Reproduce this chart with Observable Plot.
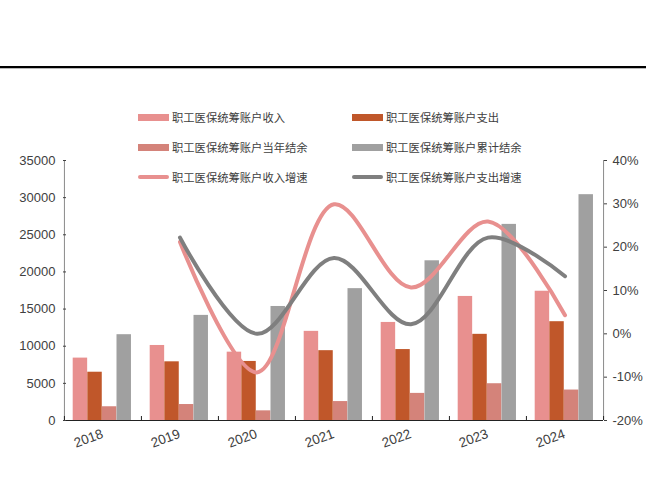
<!DOCTYPE html>
<html><head><meta charset="utf-8">
<script src="https://cdn.jsdelivr.net/npm/d3@7"></script>
<script src="https://cdn.jsdelivr.net/npm/@observablehq/plot@0.6"></script>
<style>
body{margin:0;background:#fff;font-family:"Liberation Sans",Arial,"Noto Sans CJK SC",sans-serif;}
#wrap{position:relative;width:646px;height:482px;overflow:hidden;background:#fff}
.topline{position:absolute;left:0;top:66px;width:646px;height:2px;background:#000;border-bottom:1px solid #b8b8b8}
#legend{position:absolute;left:0;top:0;z-index:2}
.leg{position:absolute;display:flex;align-items:center;font-family:"Noto Sans CJK SC",sans-serif;font-size:11.3px;color:#404040;white-space:nowrap;height:16px}
.sw{width:31px;margin-right:3px}
#chart{position:absolute;left:0;top:150px;z-index:1}
</style></head><body>
<div id="wrap">
  <div class="topline"></div>
  <div id="chart"></div>
  <div id="legend"></div>
</div>
<script>
// ---- data ----
const years = ["2018","2019","2020","2021","2022","2023","2024"];
const income = [8400, 10100, 9200, 12000, 13200, 16700, 17400];
const expense = [6500, 7900, 7950, 9400, 9550, 11600, 13300];
const balance = [1850, 2150, 1300, 2550, 3650, 4950, 4100];
const cumulative = [11550, 14150, 15350, 17750, 21500, 26400, 30400];
const incomeGrowth = [null, 21.2, -8.9, 29.9, 10.7, 25.9, 4.3];
const expenseGrowth = [null, 22.2, 0.0, 17.5, 2.2, 22.2, 13.3];
const leftTicks = [0, 5000, 10000, 15000, 20000, 25000, 30000, 35000];
const rightTicks = [-20, -10, 0, 10, 20, 30, 40];
const seriesNames = ["职工医保统筹账户收入","职工医保统筹账户支出","职工医保统筹账户当年结余","职工医保统筹账户累计结余","职工医保统筹账户收入增速","职工医保统筹账户支出增速"];
const colors = ["#E8908F","#C0572A","#D4837A","#A0A0A0","#E8908F","#7F7F7F"];

// ---- layout ----
const W = 646, H = 332, ML = 63, MR = 43, MT = 10, MB = 62;
const bw = (W - ML - MR) / years.length;
const barW = 14.6, offs = [8.7, 23.3, 37.9, 52.5];
const yMax = 35000, pMin = -20, pMax = 40;
const toLeft = p => (p - pMin) / (pMax - pMin) * yMax;
const fromLeft = v => Math.round(v / yMax * (pMax - pMin) + pMin);

const rows = years.map((y, i) => ({year: y, income: income[i], expense: expense[i], balance: balance[i], cumulative: cumulative[i], ig: incomeGrowth[i], eg: expenseGrowth[i]}));
const barKeys = ["income","expense","balance","cumulative"];

const bars = barKeys.map((k, j) => Plot.barY(rows, {
  x: "year", y: k, fill: colors[j],
  insetLeft: offs[j], insetRight: bw - offs[j] - barW
}));

const chart = Plot.plot({
  width: W, height: H, marginLeft: ML, marginRight: MR, marginTop: MT, marginBottom: MB,
  style: {fontFamily: "'Liberation Sans', Arial, sans-serif", fontSize: "13px", color: "#404040", background: "transparent"},
  x: {type: "band", domain: years, padding: 0, axis: null},
  y: {domain: [0, yMax]},
  marks: [
    ...bars,
    Plot.line(rows.filter(d => d.ig != null), {x: "year", y: d => toLeft(d.ig), stroke: colors[4], strokeWidth: 4, curve: "catmull-rom", strokeLinecap: "round"}),
    Plot.line(rows.filter(d => d.eg != null), {x: "year", y: d => toLeft(d.eg), stroke: colors[5], strokeWidth: 4, curve: "catmull-rom", strokeLinecap: "round"}),
    // axis lines
    Plot.tickX([years[0]], {x: d => d, dx: -bw / 2, stroke: "#8a8a8a"}),
    Plot.tickX([years[years.length - 1]], {x: d => d, dx: bw / 2, stroke: "#8a8a8a"}),
    Plot.ruleY([0], {stroke: "#222"}),
    // category boundary ticks
    Plot.tickX(years, {x: d => d, dx: -bw / 2, insetTop: H - MT - MB - 4, stroke: "#222"}),
    Plot.tickX([years[years.length - 1]], {x: d => d, dx: bw / 2, insetTop: H - MT - MB - 4, stroke: "#222"}),
    Plot.axisY({anchor: "left", ticks: leftTicks, tickSize: -3, tickPadding: 11, tickFormat: d => String(d)}),
    Plot.axisY(rightTicks.map(toLeft), {anchor: "right", tickSize: 3, tickPadding: 6, tickFormat: d => fromLeft(d) + "%"}),
    Plot.text(years, {x: d => d, frameAnchor: "bottom", dx: -13, dy: 22, rotate: -20, fontSize: 13.5, fill: "#404040"})
  ]
});
document.getElementById("chart").appendChild(chart);

// ---- legend ----
const legPos = [[138,109],[352,109],[138,139],[352,139],[138,169],[352,169]];
const leg = document.getElementById("legend");
seriesNames.forEach((name, i) => {
  const d = document.createElement("div");
  d.className = "leg";
  d.style.left = legPos[i][0] + "px";
  d.style.top = legPos[i][1] + "px";
  const sw = document.createElement("span");
  sw.className = "sw";
  sw.style.background = colors[i];
  sw.style.height = i < 4 ? "7px" : "4px";
  if (i >= 4) sw.style.borderRadius = "2px";
  d.appendChild(sw);
  const t = document.createElement("span");
  t.textContent = name;
  d.appendChild(t);
  leg.appendChild(d);
});
</script>
</body></html>
